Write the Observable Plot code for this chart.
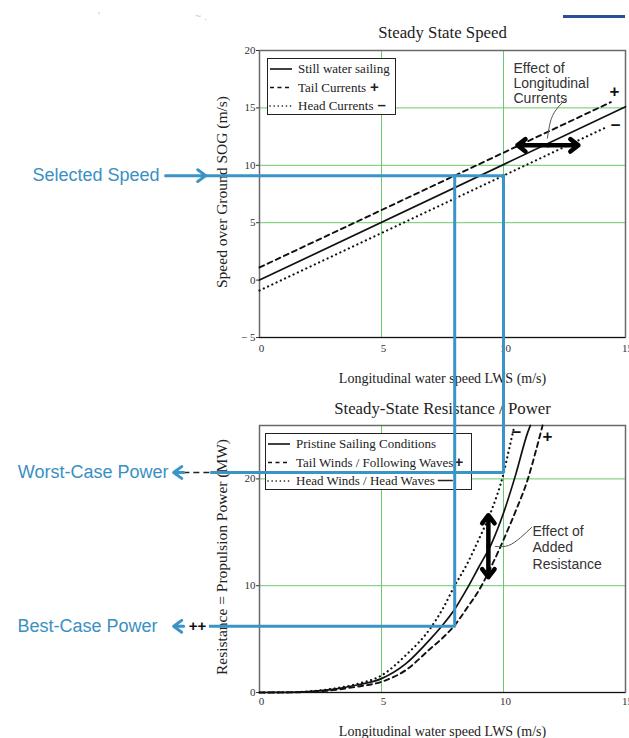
<!DOCTYPE html>
<html><head><meta charset="utf-8">
<script src="https://cdn.jsdelivr.net/npm/d3@7"></script>
<script src="https://cdn.jsdelivr.net/npm/@observablehq/plot@0.6"></script>
<style>
html,body{margin:0;padding:0;background:#fff;}
#chart{position:relative;width:629px;height:738px;overflow:hidden;background:#fff;}
</style></head><body><div id="chart"></div>
<script>
// ---------- data: Steady State Speed ----------
const speedStillLWS = [0, 15];
const speedStillSOG = [0, 15.1];
const speedTailLWS = [0, 14.4];
const speedTailSOG = [1.1, 15.5];
const speedHeadLWS = [0, 14.2];
const speedHeadSOG = [-0.9, 13.3];
const speedTicksY = [-5, 0, 5, 10, 15, 20];
const speedGridY = [5, 10, 15];
const lwsTicks = [0, 5, 10, 15];
const lwsGrid = [5, 10];

// ---------- data: Steady-State Resistance / Power ----------
const powerPristineLWS = [0, 1, 2, 3, 4, 5, 6, 7, 7.5, 8, 8.5, 9, 9.5, 10, 10.5, 11, 11.1];
const powerPristineMW  = [0, 0.01, 0.08, 0.3, 0.7, 1.3, 2.7, 5.0, 6.3, 7.8, 9.7, 11.8, 13.9, 16.8, 20.4, 24.4, 25];
const powerTailLWS = [0, 1, 2, 3, 4, 5, 6, 7, 7.5, 8, 8.5, 9, 9.5, 10, 10.5, 11, 11.3, 11.6];
const powerTailMW  = [0, 0.01, 0.05, 0.22, 0.55, 1.0, 2.1, 4.1, 5.1, 6.3, 7.9, 9.6, 11.8, 14.3, 17.0, 20.0, 22.4, 25];
const powerHeadLWS = [0, 1, 2, 3, 4, 5, 6, 7, 7.5, 8, 8.5, 9, 9.5, 10, 10.2, 10.45];
const powerHeadMW  = [0, 0.01, 0.1, 0.35, 0.8, 1.6, 3.5, 6.0, 7.8, 10.0, 12.0, 14.4, 17.0, 20.5, 22.5, 25];
const powerTicksY = [0, 10, 20];
const powerGridY = [10, 20];

// ---------- data: annotations ----------
const selectedSOG = 9.1;
const worstLWS = 10, bestLWS = 8;
const worstPowerMW = 20.6, bestPowerMW = 6.2;
const calloutTipLWS = -3.52, calloutJoinLWS = -2.0, selectedArrowStart = -3.85, selectedArrowTip = -2.2;
const worstDashStart = -3.1, plusPlusLWS = -2.54;
const currentsArrow = {y: 11.74, left: 10.57, mid: 11.82, right: 13.07};
const resistanceArrow = {x: 9.38, low: 10.8, mid: 13.7, high: 16.6};
const currentsLeaderLWS = [12.58, 12.09, 11.89, 11.80];
const currentsLeaderSOG = [15.85, 14.63, 13.50, 12.37];
const resistanceLeaderLWS = [11.15, 10.70, 10.20, 9.67];
const resistanceLeaderMW = [15.45, 14.51, 13.76, 13.67];
const currentsNote = {x: 10.41, y: 18.99, text: "Effect of\nLongitudinal\nCurrents"};
const resistanceNote = {x: 11.19, y: 15.82, text: "Effect of\nAdded\nResistance"};
const speedSigns = [{x: 14.55, y: 16.4, t: "+"}, {x: 14.6, y: 13.5, t: "\u2212"}];
const powerSigns = [{x: 10.53, y: 24.3, t: "\u2212"}, {x: 11.8, y: 24.0, t: "+"}];

const GREEN = "#6cc96c", BLUE = "#3b94c6", TEXTBLUE = "#3a90c2";
const SERIF = "'Liberation Serif','Times New Roman',serif";
const SANS = "'Liberation Sans',Arial,sans-serif";
const W = 629, ML = 259, MR = 4;
const chart = document.getElementById("chart");
const pts = (xs, ys) => xs.map((x, i) => ({x, y: ys[i]}));

function place(el, topPx, z) {
  el.style.position = "absolute"; el.style.left = "0px"; el.style.top = topPx + "px"; el.style.zIndex = z;
  chart.appendChild(el);
}
const yFmt = d => d < 0 ? "\u2212 " + Math.abs(d) : String(d);

function base(cfg) {
  return Plot.plot({
    width: W, height: cfg.height, marginTop: cfg.mt, marginBottom: cfg.mb, marginLeft: ML, marginRight: MR,
    x: {domain: [0, 15]}, y: {domain: cfg.yDomain},
    style: {fontFamily: SERIF, fontSize: "11px", color: "#333", background: "transparent", overflow: "hidden"},
    marks: [
      Plot.gridX(lwsGrid, {stroke: GREEN, strokeOpacity: 1, strokeWidth: 1}),
      Plot.gridY(cfg.gridY, {stroke: GREEN, strokeOpacity: 1, strokeWidth: 1}),
      Plot.frame({stroke: "#6a6a6a", strokeWidth: 1.5}),
      Plot.ruleY([cfg.yDomain[0]], {stroke: "#111", strokeWidth: 1.2}),
      Plot.axisX(lwsTicks, {tickSize: 0, tickPadding: cfg.xPad, dx: 2, label: null}),
      Plot.axisY(cfg.ticksY, {tickSize: 3, tickPadding: 1, label: null, tickFormat: yFmt}),
      Plot.line(pts(...cfg.tail), {x: "x", y: "y", curve: "monotone-x", stroke: "#111", strokeWidth: 1.9, strokeDasharray: "5,4"}),
      Plot.line(pts(...cfg.head), {x: "x", y: "y", curve: "monotone-x", stroke: "#111", strokeWidth: 2.2, strokeDasharray: "0.1,4.6", strokeLinecap: "round"}),
      Plot.line(pts(...cfg.still), {x: "x", y: "y", curve: "monotone-x", stroke: "#111", strokeWidth: 1.7}),
      Plot.text([cfg.title], {text: d => d, frameAnchor: "top", lineAnchor: "bottom", dy: cfg.titleDy, fontSize: 16.8, fontFamily: SERIF, fill: "#222"}),
      Plot.text(["Longitudinal water speed LWS (m/s)"], {text: d => d, frameAnchor: "bottom", lineAnchor: "bottom", dy: cfg.xLabelDy, fontSize: 14, fontFamily: SERIF, fill: "#222"}),
      Plot.text([cfg.yLabel], {text: d => d, frameAnchor: "left", textAnchor: "middle", rotate: -90, dx: -37, dy: cfg.yLabelDy, fontSize: 15.5, fontFamily: SERIF, fill: "#222"})
    ]
  });
}

const topCfg = {height: 390, mt: 50, mb: 53, yDomain: [-5, 20], gridY: speedGridY, ticksY: speedTicksY, xPad: 7,
  still: [speedStillLWS, speedStillSOG], tail: [speedTailLWS, speedTailSOG], head: [speedHeadLWS, speedHeadSOG],
  title: "Steady State Speed", titleDy: -13, xLabelDy: 45, yLabel: "Speed over Ground SOG (m/s)", yLabelDy: -2};
const botCfg = {height: 348, mt: 35, mb: 46, yDomain: [0, 25], gridY: powerGridY, ticksY: powerTicksY, xPad: 5,
  still: [powerPristineLWS, powerPristineMW], tail: [powerTailLWS, powerTailMW], head: [powerHeadLWS, powerHeadMW],
  title: "Steady-State Resistance / Power", titleDy: -12, xLabelDy: 43, yLabel: "Resistance = Propulsion Power (MW)", yLabelDy: -2};

place(base(topCfg), 0, 1);
place(base(botCfg), 390, 1);

// ---------- legends ----------
function legend(left, top, w, h, rows) {
  const d = document.createElement("div");
  const y0 = 14, step = (h - 20) / 2;
  let s = `<svg width="${w}" height="${h}" xmlns="http://www.w3.org/2000/svg" style="overflow:visible">`;
  s += `<rect x="0.5" y="0.5" width="${w - 1}" height="${h - 1}" fill="#fff" stroke="#222" stroke-width="1"/>`;
  rows.forEach((r, i) => {
    const by = y0 + i * step + 1;
    const ly = by - 4;
    const dash = r.style === "dash" ? 'stroke-dasharray="4,3.5"' : r.style === "dot" ? 'stroke-dasharray="0.1,4" stroke-linecap="round" stroke-width="2"' : 'stroke-width="2"';
    s += `<line x1="3" x2="25" y1="${ly}" y2="${ly}" stroke="#111" stroke-width="1.6" ${dash}/>`;
    s += `<text x="31" y="${by}" font-family="${SERIF}" font-size="13" fill="#222">${r.label}`;
    if (r.sign) s += `<tspan font-family="${SANS}" font-weight="bold" font-size="15" dx="${r.signDx}">${r.sign}</tspan>`;
    s += `</text>`;
  });
  s += `</svg>`;
  d.innerHTML = s;
  d.style.position = "absolute"; d.style.left = left + "px"; d.style.top = top + "px"; d.style.zIndex = 2;
  chart.appendChild(d);
}
legend(267, 58, 129, 57, [
  {label: "Still water sailing", style: "solid"},
  {label: "Tail Currents", style: "dash", sign: "+", signDx: 4},
  {label: "Head Currents", style: "dot", sign: "\u2013", signDx: 4}
]);
legend(265, 433, 207, 57, [
  {label: "Pristine Sailing Conditions", style: "solid"},
  {label: "Tail Winds / Following Waves", style: "dash", sign: "+", signDx: 1},
  {label: "Head Winds / Head Waves", style: "dot", sign: "\u2014", signDx: 3}
]);

// ---------- overlays (annotations) ----------
const chevron = {stroke: BLUE, strokeWidth: 3, headLength: 5, headAngle: 72};
const topOverlay = Plot.plot({
  width: W, height: topCfg.height, marginTop: topCfg.mt, marginBottom: topCfg.mb, marginLeft: ML, marginRight: MR,
  x: {domain: [0, 15], axis: null}, y: {domain: topCfg.yDomain, axis: null},
  style: {background: "transparent", overflow: "hidden"},
  marks: [
    Plot.ruleY([selectedSOG], {x1: () => selectedArrowTip, x2: () => worstLWS + 0.05, stroke: BLUE, strokeWidth: 3}),
    Plot.arrow([selectedSOG], {x1: () => selectedArrowStart, x2: () => selectedArrowTip, y1: d => d, y2: d => d, ...chevron}),
    Plot.ruleX([worstLWS, bestLWS], {y1: () => selectedSOG + 0.1, y2: () => -30, stroke: BLUE, strokeWidth: 3}),
    Plot.text(["Selected Speed"], {text: d => d, y: () => selectedSOG, frameAnchor: "left", dx: -100, textAnchor: "end", fill: TEXTBLUE, fontSize: 18, fontFamily: SANS}),
    Plot.arrow([currentsArrow], {x1: d => d.mid, x2: d => d.left, y1: d => d.y, y2: d => d.y, stroke: "#000", strokeWidth: 4.5, headLength: 3.4, headAngle: 75}),
    Plot.arrow([currentsArrow], {x1: d => d.mid, x2: d => d.right, y1: d => d.y, y2: d => d.y, stroke: "#000", strokeWidth: 4.5, headLength: 3.4, headAngle: 75}),
    Plot.line(pts(currentsLeaderLWS, currentsLeaderSOG), {x: "x", y: "y", curve: "natural", stroke: "#555", strokeWidth: 1}),
    Plot.text([currentsNote], {x: "x", y: "y", text: "text", textAnchor: "start", lineAnchor: "top", lineHeight: 1.07, fontSize: 14, fontFamily: SANS, fill: "#333"}),
    Plot.text(speedSigns, {x: "x", y: "y", text: "t", fontSize: 17, fontWeight: "bold", fontFamily: SANS, fill: "#111"})
  ]
});
place(topOverlay, 0, 3);

const botOverlay = Plot.plot({
  width: W, height: botCfg.height, marginTop: botCfg.mt, marginBottom: botCfg.mb, marginLeft: ML, marginRight: MR,
  x: {domain: [0, 15], axis: null}, y: {domain: botCfg.yDomain, axis: null},
  style: {background: "transparent", overflow: "hidden"},
  marks: [
    Plot.ruleX([worstLWS], {y1: () => 60, y2: () => worstPowerMW - 0.1, stroke: BLUE, strokeWidth: 3}),
    Plot.ruleX([bestLWS], {y1: () => 60, y2: () => bestPowerMW - 0.1, stroke: BLUE, strokeWidth: 3}),
    Plot.ruleY([worstPowerMW], {x1: () => calloutJoinLWS, x2: () => worstLWS + 0.05, stroke: BLUE, strokeWidth: 3}),
    Plot.ruleY([worstPowerMW], {x1: () => worstDashStart, x2: () => calloutJoinLWS, stroke: "#222", strokeWidth: 1.3, strokeDasharray: "6,4"}),
    Plot.ruleY([bestPowerMW], {x1: () => calloutJoinLWS - 0.05, x2: () => bestLWS + 0.05, stroke: BLUE, strokeWidth: 3}),
    Plot.arrow([worstPowerMW, bestPowerMW], {x1: () => calloutJoinLWS, x2: () => calloutTipLWS, y1: d => d, y2: d => d, insetStart: 27, ...chevron}),
    Plot.text(["++"], {text: d => d, x: () => plusPlusLWS, y: () => bestPowerMW, fontSize: 15, fontWeight: "bold", fontFamily: SANS, fill: "#111"}),
    Plot.text([{t: "Worst-Case Power", v: worstPowerMW}], {text: "t", y: "v", frameAnchor: "left", dx: -91, textAnchor: "end", fill: TEXTBLUE, fontSize: 18, fontFamily: SANS}),
    Plot.text([{t: "Best-Case Power", v: bestPowerMW}], {text: "t", y: "v", frameAnchor: "left", dx: -102, textAnchor: "end", fill: TEXTBLUE, fontSize: 18, fontFamily: SANS}),
    Plot.arrow([resistanceArrow], {x1: d => d.x, x2: d => d.x, y1: d => d.mid, y2: d => d.high, stroke: "#000", strokeWidth: 4.5, headLength: 3.4, headAngle: 75}),
    Plot.arrow([resistanceArrow], {x1: d => d.x, x2: d => d.x, y1: d => d.mid, y2: d => d.low, stroke: "#000", strokeWidth: 4.5, headLength: 3.4, headAngle: 75}),
    Plot.line(pts(resistanceLeaderLWS, resistanceLeaderMW), {x: "x", y: "y", curve: "natural", stroke: "#555", strokeWidth: 1}),
    Plot.text([resistanceNote], {x: "x", y: "y", text: "text", textAnchor: "start", lineAnchor: "top", lineHeight: 1.21, fontSize: 14, fontFamily: SANS, fill: "#333"}),
    Plot.text(powerSigns, {x: "x", y: "y", text: "t", fontSize: 17, fontWeight: "bold", fontFamily: SANS, fill: "#111"})
  ]
});
place(botOverlay, 390, 3);

// ---------- decorations at the page top ----------
const bar = document.createElement("div");
bar.style.cssText = "position:absolute;left:563px;top:15px;width:62px;height:3px;background:#2b4e9b;z-index:4";
chart.appendChild(bar);
const faint = document.createElement("div");
faint.style.cssText = "position:absolute;left:98px;top:10px;font:11px " + SANS + ";color:#c8c8c8;z-index:4;white-space:pre";
faint.textContent = "'                               ~ .";
chart.appendChild(faint);
</script></body></html>
